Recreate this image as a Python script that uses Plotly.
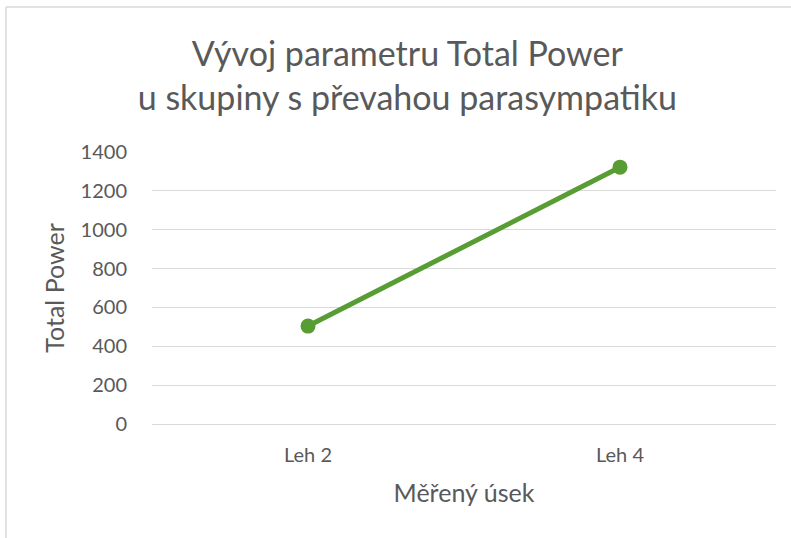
import plotly.graph_objects as go

categories = ["Leh 2", "Leh 4"]
values = [504, 1322]
y_ticks = [0, 200, 400, 600, 800, 1000, 1200, 1400]

title_text = "Vývoj parametru Total Power<br>u skupiny s převahou parasympatiku"
x_title = "Měřený úsek"
y_title = "Total Power"

FONT = "Lato, Open Sans, sans-serif"
GRAY = "#595959"
GREEN = "#589D34"

fig = go.Figure()
fig.add_trace(go.Scatter(
    x=categories, y=values, mode="lines+markers",
    line=dict(color=GREEN, width=5),
    marker=dict(color=GREEN, size=15),
    hoverinfo="x+y",
))

fig.update_layout(
    width=791, height=538,
    margin=dict(l=152, r=15, t=152, b=114),
    paper_bgcolor="white", plot_bgcolor="white",
    showlegend=False,
    title=dict(text=title_text, x=0.515, xref="container", xanchor="center",
               y=0.877, yref="container", yanchor="top",
               font=dict(family=FONT, size=34, color=GRAY)),
    font=dict(family=FONT, color=GRAY),
    xaxis=dict(type="category", range=[-0.5, 1.5], showgrid=False,
               showline=False, zeroline=False,
               ticks="outside", ticklen=13, tickcolor="rgba(0,0,0,0)",
               tickfont=dict(size=20, color=GRAY),
               title=dict(text=x_title, font=dict(size=25, color=GRAY), standoff=19)),
    yaxis=dict(range=[0, 1400], tickvals=y_ticks, showgrid=True,
               gridcolor="#D9D9D9", gridwidth=1, zeroline=True,
               zerolinecolor="#D9D9D9", zerolinewidth=1, showline=False,
               ticks="outside", ticklen=20, tickcolor="rgba(0,0,0,0)",
               tickfont=dict(size=20, color=GRAY),
               title=dict(text=y_title, font=dict(size=25, color=GRAY), standoff=8)),
    shapes=[
        dict(type="line", xref="paper", yref="paper", x0=-0.234, x1=1.2,
             y0=1.533, y1=1.533, line=dict(color="#D9D9D9", width=1.5)),
        dict(type="line", xref="paper", yref="paper", x0=-0.234, x1=-0.234,
             y0=1.533, y1=-0.5, line=dict(color="#D9D9D9", width=1.5)),
    ],
)

fig.write_html("out.html", config={"displayModeBar": False},
               post_script="document.body.style.margin='0';")
